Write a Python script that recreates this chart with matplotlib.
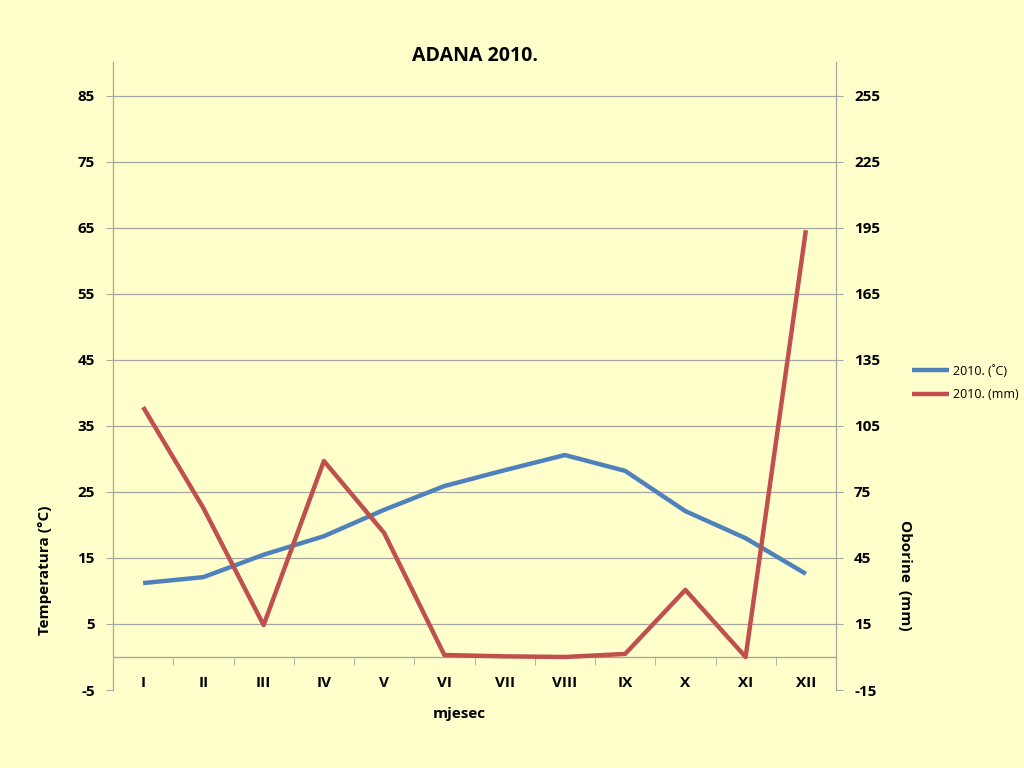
import matplotlib.pyplot as plt

mjeseci = ['I', 'II', 'III', 'IV', 'V', 'VI', 'VII', 'VIII', 'IX', 'X', 'XI', 'XII']
temperatura = [11.2, 12.1, 15.5, 18.3, 22.3, 25.9, 28.3, 30.6, 28.2, 22.1, 18.0, 12.6]
oborine = [113.6, 67.7, 14.5, 89.1, 56.4, 0.9, 0.3, 0.0, 1.4, 30.5, 0.0, 194.0]
ticks_lijevo = [-5, 5, 15, 25, 35, 45, 55, 65, 75, 85]
ticks_desno = [-15, 15, 45, 75, 105, 135, 165, 195, 225, 255]

pozadina = '#FFFFCC'
plava = '#4F81BD'
crvena = '#C0504D'
siva = '#A6A6A0'

plt.rcParams['font.family'] = ['Open Sans', 'DejaVu Sans']
plt.rcParams['axes.unicode_minus'] = False

fig = plt.figure(figsize=(10.24, 7.68), dpi=100, facecolor=pozadina)
ax = fig.add_axes([113 / 1024, 1 - 690 / 768, 723 / 1024, 628 / 768])
ax.set_facecolor(pozadina)
ax2 = ax.twinx()

x = list(range(len(mjeseci)))
l1, = ax.plot(x, temperatura, color=plava, lw=3.2, solid_capstyle='butt', label='2010. (˚C)', zorder=3)
l2, = ax2.plot(x, oborine, color=crvena, lw=3.2, solid_capstyle='butt', label='2010. (mm)', zorder=3)

ax.set_xlim(-0.5, 11.5)
ax.set_ylim(-5, 90.15)
ax2.set_ylim(-15, 270.45)

ax.set_yticks(ticks_lijevo)
ax2.set_yticks(ticks_desno)
for t in ticks_lijevo[1:]:
    ax.axhline(t, color=siva, lw=0.9, zorder=1)
ax.axhline(0, color=siva, lw=0.9, zorder=1)

# os kategorija na nuli
ax.set_xticks(x)
ax.set_xticklabels(mjeseci)
ax.set_xticks([i + 0.5 for i in range(11)], minor=True)
ax.tick_params(axis='x', which='major', length=0, pad=14, labelsize=11)
ax.tick_params(axis='x', which='minor', length=6, color=siva, direction='out')
ax.spines['bottom'].set_position(('data', 0))
ax.spines['bottom'].set_color(siva)

for a in (ax, ax2):
    a.spines['top'].set_visible(False)
    a.spines['left'].set_color(siva)
    a.spines['right'].set_color(siva)
ax2.spines['bottom'].set_visible(False)

ax.tick_params(axis='y', length=5, color=siva, labelsize=11, pad=8)
ax2.tick_params(axis='y', length=5, color=siva, labelsize=11, pad=8)
for lab in ax.get_yticklabels() + ax2.get_yticklabels() + ax.get_xticklabels():
    lab.set_fontweight('bold')

ax2.set_title('ADANA 2010.', fontweight='bold', fontsize=14, y=1.0, pad=1)
ax.set_xlabel('mjesec', fontweight='bold', fontsize=11)
ax.xaxis.set_label_coords(0.479, -0.027)
ax.set_ylabel('Temperatura (°C)', fontweight='bold', fontsize=11)
ax.yaxis.set_label_coords(-0.084, 0.191)
ax2.set_ylabel('Oborine  (mm)', fontweight='bold', fontsize=11, rotation=270, va='center')
ax2.yaxis.set_label_coords(1.095, 0.183)

fig.legend(handles=[l1, l2], loc='upper left', bbox_to_anchor=(903 / 1024, 1 - 356 / 768),
           frameon=False, fontsize=9, handlelength=3.0, handletextpad=0.3, labelspacing=0.85,
           borderpad=0.2)

fig.savefig('out.png', dpi=100, facecolor=pozadina)
